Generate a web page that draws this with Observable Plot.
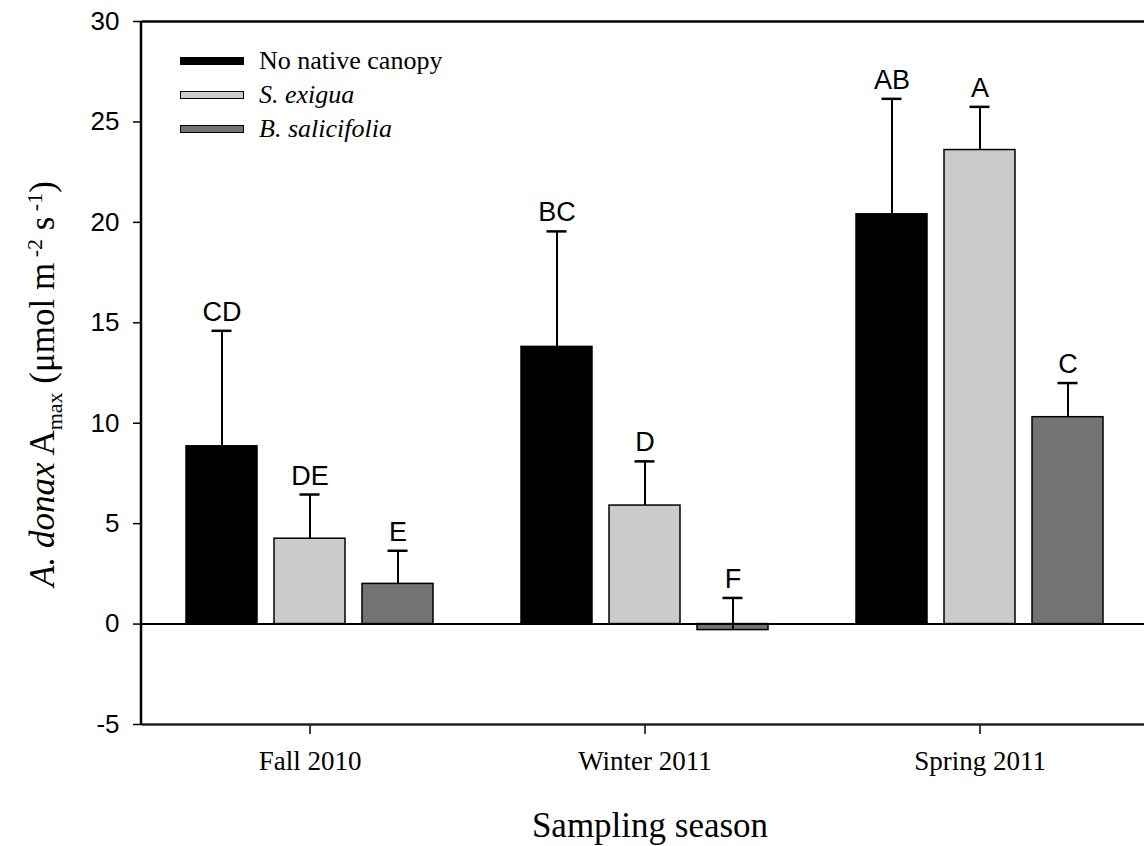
<!DOCTYPE html>
<html>
<head>
<meta charset="utf-8">
<script src="https://cdn.jsdelivr.net/npm/d3@7"></script>
<script src="https://cdn.jsdelivr.net/npm/@observablehq/plot@0.6"></script>
<style>
  html, body { margin: 0; padding: 0; background: #fff; }
  #wrap { position: relative; width: 1144px; height: 846px; overflow: hidden; }
  .serif { font-family: "Liberation Serif", "Times New Roman", serif; color: #000; }
  .legend-row { position: absolute; left: 180px; display: flex; align-items: center; height: 30px; }
  .swatch { width: 62px; height: 6px; border: 1px solid #000; margin-right: 15px; }
  .legend-row span { font-size: 26px; line-height: 26px; }
  #ylabel { position: absolute; left: 45px; top: 384px; transform: translate(-50%, -50%) rotate(-90deg); white-space: nowrap; font-size: 35px; }
  #ylabel sub, #ylabel sup { font-size: 22px; }
  #xlabel { position: absolute; left: 650px; top: 806px; transform: translateX(-50%); font-size: 35px; white-space: nowrap; }
</style>
</head>
<body>
<div id="wrap">
  <div id="chart"></div>
  <div class="legend-row serif" style="top:46px"><div class="swatch" style="background:#000"></div><span>No native canopy</span></div>
  <div class="legend-row serif" style="top:80px"><div class="swatch" style="background:#cbcbcb"></div><span><i>S. exigua</i></span></div>
  <div class="legend-row serif" style="top:114px"><div class="swatch" style="background:#737373"></div><span><i>B. salicifolia</i></span></div>
  <div id="ylabel" class="serif"><i>A. donax</i> A<sub>max</sub> (μmol m<sup> -2</sup> s<sup> -1</sup>)</div>
  <div id="xlabel" class="serif">Sampling season</div>
</div>
<script>
// Sampling seasons and canopy treatments
const seasons = ["Fall 2010", "Winter 2011", "Spring 2011"];
const treatments = ["No native canopy", "S. exigua", "B. salicifolia"];
const fills = ["#000000", "#cbcbcb", "#737373"];

// Mean A. donax Amax per season (rows) and treatment (columns)
const meanFall = [8.85, 4.25, 2.0];
const meanWinter = [13.8, 5.9, -0.3];
const meanSpring = [20.4, 23.6, 10.3];

// Standard errors (drawn upward only)
const seFall = [5.75, 2.2, 1.65];
const seWinter = [5.75, 2.2, 1.6];
const seSpring = [5.75, 2.15, 1.7];

// Significance group letters
const lettersFall = ["CD", "DE", "E"];
const lettersWinter = ["BC", "D", "F"];
const lettersSpring = ["AB", "A", "C"];

const yTicks = [-5, 0, 5, 10, 15, 20, 25, 30];

const means = [meanFall, meanWinter, meanSpring];
const ses = [seFall, seWinter, seSpring];
const letters = [lettersFall, lettersWinter, lettersSpring];

const rows = [];
seasons.forEach((s, i) => treatments.forEach((t, j) => {
  rows.push({season: s, treatment: t, mean: means[i][j], se: ses[i][j], top: means[i][j] + ses[i][j], letter: letters[i][j]});
}));

const marginLeft = 141, marginTop = 21, marginBottom = 122;

const plot = Plot.plot({
  width: 1144,
  height: 846,
  marginLeft,
  marginRight: 0,
  marginTop,
  marginBottom,
  style: {background: "#fff", color: "#000", overflow: "visible"},
  fx: {domain: seasons, padding: 0, range: [marginLeft, 1147.5], label: null},
  x: {domain: treatments, paddingInner: 0.19, paddingOuter: 0.48, axis: null},
  y: {domain: [-5, 30], axis: null},
  color: {domain: treatments, range: fills},
  marks: [
    Plot.axisY({ticks: yTicks, tickFormat: (d) => String(d), tickSize: 9, tickPadding: 14, fontSize: 26, fontFamily: "Liberation Sans, Arial, sans-serif", strokeWidth: 1.5, label: null}),
    Plot.axisFx({anchor: "bottom", tickSize: 10, tickPadding: 16, fontSize: 27, fontFamily: "Liberation Serif, Times New Roman, serif", strokeWidth: 1.5, label: null}),
    Plot.ruleY([30], {stroke: "#000", strokeWidth: 2.5}),
    Plot.ruleY([-5], {stroke: "#222", strokeWidth: 2.5}),
    Plot.barY(rows, {fx: "season", x: "treatment", y1: 0, y2: "mean", fill: "treatment", stroke: "#000", strokeWidth: 1.5}),
    Plot.ruleY([0], {stroke: "#000", strokeWidth: 2}),
    Plot.ruleX(rows, {fx: "season", x: "treatment", y1: "mean", y2: "top", stroke: "#000", strokeWidth: 2}),
    Plot.tickY(rows, {fx: "season", x: "treatment", y: "top", stroke: "#000", strokeWidth: 2.5, insetLeft: 25.5, insetRight: 25.5}),
    Plot.text(rows, {fx: "season", x: "treatment", y: "top", text: "letter", lineAnchor: "bottom", dy: -10, fontSize: 27, fontFamily: "Liberation Sans, Arial, sans-serif", fill: "#000"})
  ]
});

// Left axis line spanning the full y domain
const y = plot.scale("y");
d3.select(plot).append("line")
  .attr("x1", marginLeft).attr("x2", marginLeft)
  .attr("y1", y.apply(30)).attr("y2", y.apply(-5))
  .attr("stroke", "#000").attr("stroke-width", 2.5);

document.getElementById("chart").appendChild(plot);
</script>
</body>
</html>
